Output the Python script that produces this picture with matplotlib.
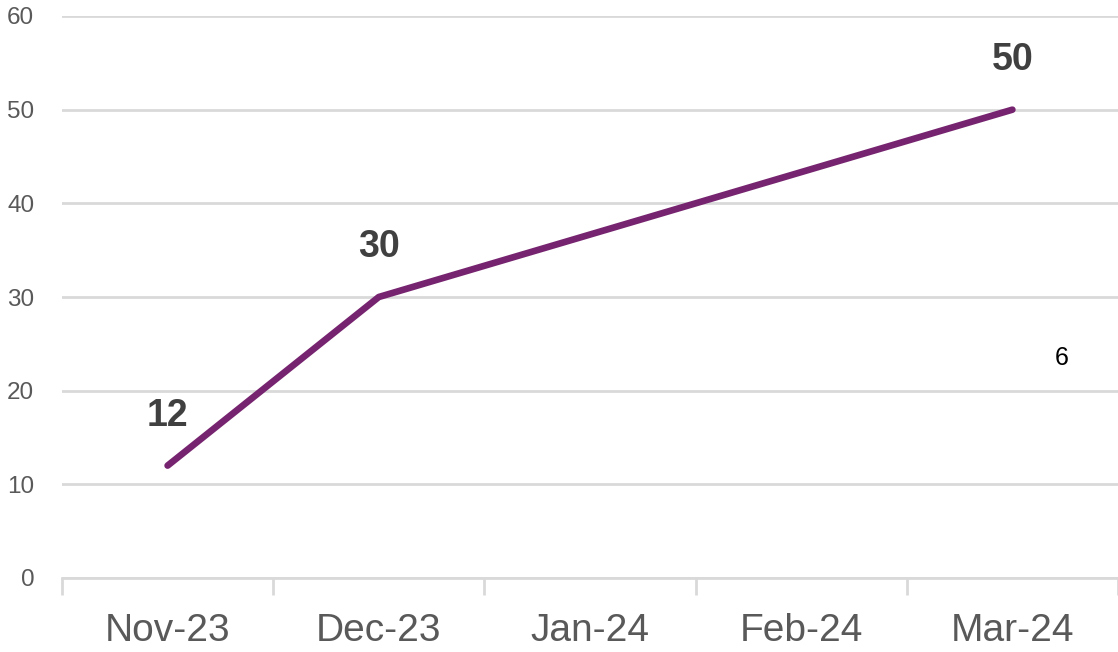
import numpy as np
import matplotlib.pyplot as plt

months = ["Nov-23", "Dec-23", "Jan-24", "Feb-24", "Mar-24"]
values = [12, 30, np.nan, np.nan, 50]
y_ticks = [0, 10, 20, 30, 40, 50, 60]

line_color = "#76246F"
grid_color = "#D9D9D9"
text_grey = "#595959"

plt.rcParams['font.family'] = ['Liberation Sans', 'DejaVu Sans']

fig = plt.figure(figsize=(11.18, 6.52), dpi=100)
ax = fig.add_axes([62 / 1118, 1 - 578 / 652, 1 - 62 / 1118, (578 - 16) / 652])

x = np.arange(len(months))
vals = np.array(values, dtype=float)
ok = ~np.isnan(vals)
# empty months are skipped, the line just joins the points either side
ax.plot(x[ok], vals[ok], color=line_color, linewidth=4.8, solid_capstyle="round", zorder=3)

for xi, v in zip(x[ok], vals[ok]):
    ax.annotate(f"{v:.0f}", (xi, v), xytext=(0, 36), textcoords="offset points",
                ha="center", va="center", fontsize=27, fontweight="bold", color="#404040")

ax.set_xlim(-0.5, len(months) - 0.5)
ax.set_ylim(0, 60)
ax.set_yticks(y_ticks)
ax.set_xticks(x)
ax.set_xticklabels(months)
ax.set_xticks(np.arange(len(months) + 1) - 0.5, minor=True)

ax.grid(axis="y", color=grid_color, linewidth=2)
ax.set_axisbelow(True)
for side in ["top", "right", "left"]:
    ax.spines[side].set_visible(False)
ax.spines["bottom"].set_color(grid_color)
ax.spines["bottom"].set_linewidth(2)

ax.tick_params(axis="y", length=0, labelsize=17.5, labelcolor=text_grey, pad=20)
ax.tick_params(axis="x", which="major", length=0, labelsize=28, labelcolor=text_grey, pad=25)
ax.tick_params(axis="x", which="minor", length=12, width=2, color=grid_color)

fig.text(1062 / 1118, 1 - 358 / 652, "6", ha="center", va="center", fontsize=18, color="black")

fig.savefig("out.png", dpi=100)
